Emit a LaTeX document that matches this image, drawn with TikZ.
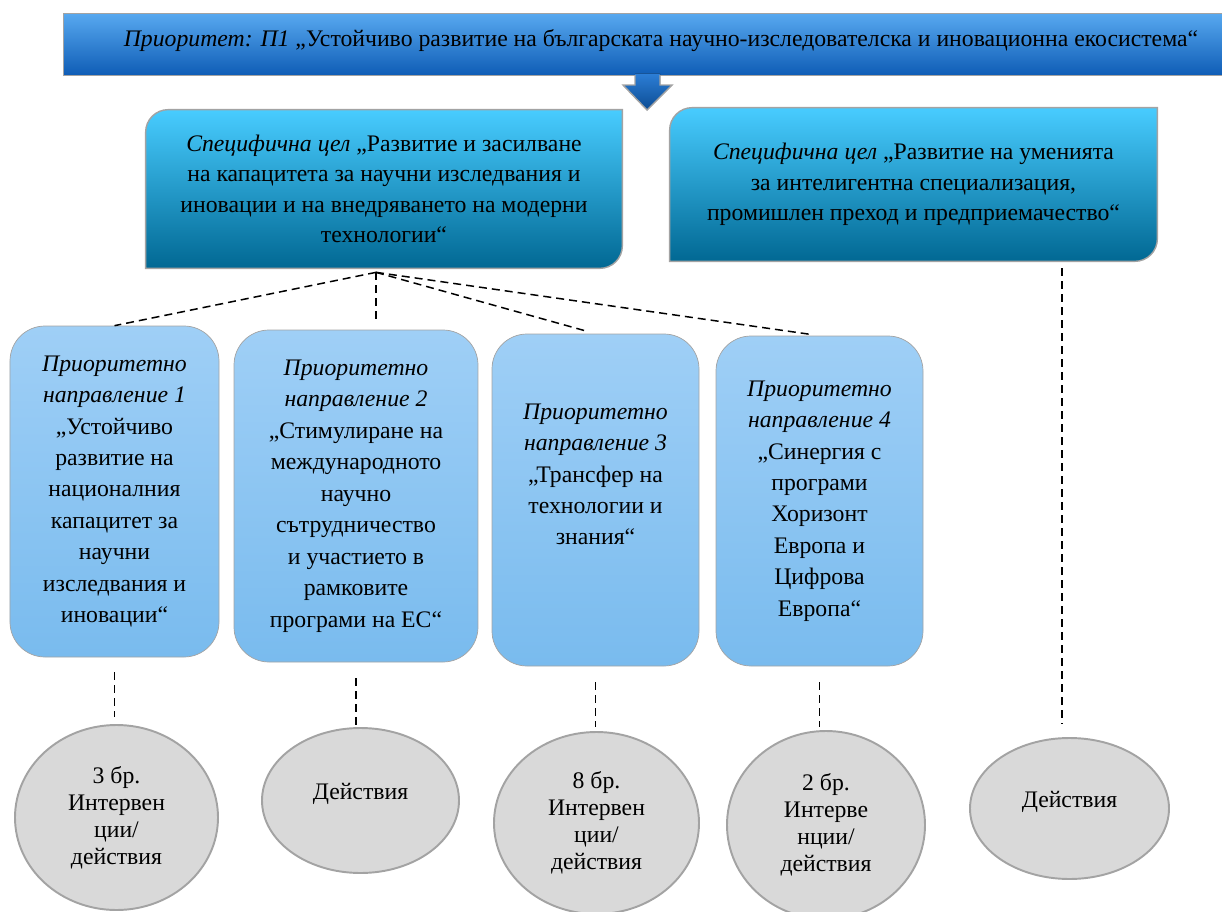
\documentclass[tikz,border=0pt]{standalone}
\usepackage{fontspec}
\setmainfont{Liberation Serif}
\usetikzlibrary{shapes.geometric,backgrounds}

\definecolor{bannerTop}{HTML}{58A9F0}
\definecolor{bannerBot}{HTML}{0F5DB6}
\definecolor{arrowTop}{HTML}{2C7ED6}
\definecolor{arrowBot}{HTML}{0C4C93}
\definecolor{specTop}{HTML}{48CCFF}
\definecolor{specBot}{HTML}{016893}
\definecolor{prioTop}{HTML}{9FCFF6}
\definecolor{prioBot}{HTML}{79BBEE}
\definecolor{actFill}{HTML}{D9D9D9}
\definecolor{edgeGray}{HTML}{A3A3A3}

\begin{document}
\begin{tikzpicture}[
	txt/.style={font=\fontsize{13.5}{17.5}\selectfont, align=center},
	banner/.style={txt, rectangle, draw=edgeGray, top color=bannerTop, bottom color=bannerBot, minimum width=23.92cm, minimum height=1.24cm, inner sep=0pt},
	goal/.style={txt, rectangle, minimum width=9.52cm, minimum height=3.16cm, inner sep=0pt, font=\fontsize{13.5}{17.3}\selectfont},
	goalshape/.style={draw=edgeGray, line width=0.8pt, top color=specTop, bottom color=specBot},
	prio/.style={txt, rectangle, rounded corners=0.7cm, draw=edgeGray, top color=prioTop, bottom color=prioBot, minimum width=4.14cm, minimum height=6.64cm, inner sep=0pt, font=\fontsize{13.5}{17.9}\selectfont},
	act/.style={txt, ellipse, draw=edgeGray, line width=1.1pt, fill=actFill, inner sep=0pt, font=\fontsize{13.5}{15.3}\selectfont},
	link/.style={dash pattern=on 0.16cm off 0.1cm, line width=0.85pt}
]
	\useasboundingbox (0,0) rectangle (24.44,-18.24);

	% priority banner and arrow
	\node[banner] (prio) at (13.22,-0.88) {\raisebox{0.24cm}{\textit{Приоритет: П1} „Устойчиво развитие на българската научно-изследователска и иновационна екосистема“}};
	\fill[top color=arrowTop, bottom color=arrowBot] (12.7,-1.47) -- (13.2,-1.47) -- (13.2,-1.7) -- (13.44,-1.7) -- (12.94,-2.2) -- (12.46,-1.7) -- (12.7,-1.7) -- cycle;
	\draw[edgeGray, line width=0.8pt] (13.2,-1.5) -- (13.2,-1.7) -- (13.44,-1.7) -- (12.94,-2.2) -- (12.46,-1.7) -- (12.7,-1.7) -- (12.7,-1.5);

	% specific goals
	\node[goal] (g1) at (7.68,-3.78) {\textit{Специфична цел} „Развитие и засилване\\на капацитета за научни изследвания и\\иновации и на внедряването на модерни\\технологии“};
	\node[goal, minimum width=9.74cm, minimum height=3.06cm] (g2) at (18.27,-3.69) {\textit{Специфична цел} „Развитие на уменията\\за интелигентна специализация,\\промишлен преход и предприемачество“};
	\begin{scope}[on background layer]
		\path[goalshape] (g1.south west) -- ([yshift=-0.45cm]g1.north west) arc[start angle=180, end angle=90, radius=0.45cm] -- (g1.north east) -- ([yshift=0.45cm]g1.south east) arc[start angle=0, end angle=-90, radius=0.45cm] -- cycle;
		\path[goalshape] (g2.south west) -- ([yshift=-0.45cm]g2.north west) arc[start angle=180, end angle=90, radius=0.45cm] -- (g2.north east) -- ([yshift=0.45cm]g2.south east) arc[start angle=0, end angle=-90, radius=0.45cm] -- cycle;
	\end{scope}

	% priority directions
	\node[prio, minimum width=4.18cm, minimum height=6.62cm] (p1) at (2.29,-9.83) {\textit{Приоритетно}\\\textit{направление 1}\\„Устойчиво\\развитие на\\националния\\капацитет за\\научни\\изследвания и\\иновации“};
	\node[prio, minimum width=4.88cm] (p2) at (7.12,-9.92) {\textit{Приоритетно}\\\textit{направление 2}\\„Стимулиране на\\международното\\научно\\сътрудничество\\и участието в\\рамковите\\програми на ЕС“};
	\node[prio] (p3) at (11.91,-10.0) {\textit{Приоритетно}\\\textit{направление 3}\\„Трансфер на\\технологии и\\знания“\\[0.4cm]\mbox{}};
	\node[prio, minimum height=6.6cm] (p4) at (16.39,-10.02) {\textit{Приоритетно}\\\textit{направление 4}\\„Синергия с\\програми\\Хоризонт\\Европа и\\Цифрова\\Европа“};

	% actions
	\node[act, minimum width=4.06cm, minimum height=3.7cm] (a1) at (2.33,-16.35) {3 бр.\\Интервен\\ции/\\действия};
	\node[act, minimum width=3.94cm, minimum height=2.9cm] (a2) at (7.21,-16.01) {\raisebox{0.38cm}{Действия}};
	\node[act, minimum width=4.1cm, minimum height=3.64cm] (a3) at (11.93,-16.46) {8 бр.\\Интервен\\ции/\\действия};
	\node[act, minimum width=3.96cm, minimum height=3.76cm] (a4) at (16.52,-16.5) {2 бр.\\Интерве\\нции/\\действия};
	\node[act, minimum width=3.98cm, minimum height=2.82cm] (a5) at (21.39,-16.17) {\raisebox{0.38cm}{Действия}};

	% dashed links
	\coordinate (hub) at ([shift={(-0.16,-0.08)}]g1.south);
	\draw[link] (hub) -- (p1.north);
	\draw[link, shorten >=0.14cm] (hub) -- (hub |- p2.north);
	\draw[link, shorten >=0.16cm] (hub) -- (p3.north);
	\draw[link, shorten >=0.12cm] (hub) -- (p4.north);
	\draw[link, shorten <=0.3cm, shorten >=0.14cm] (p1.south) -- (p1.south |- a1.north);
	\draw[link, shorten <=0.32cm, shorten >=0.02cm] (p2.south) -- (p2.south |- a2.north);
	\draw[link, shorten <=0.32cm, shorten >=0.08cm] (p3.south) -- (p3.south |- a3.north);
	\draw[link, shorten <=0.32cm, shorten >=0.06cm] (p4.south) -- (p4.south |- a4.north);
	\coordinate (d5) at ([xshift=-0.15cm]a5.north);
	\draw[link, shorten <=0.14cm, shorten >=0.26cm] (d5 |- g2.south) -- (d5);
\end{tikzpicture}
\end{document}
